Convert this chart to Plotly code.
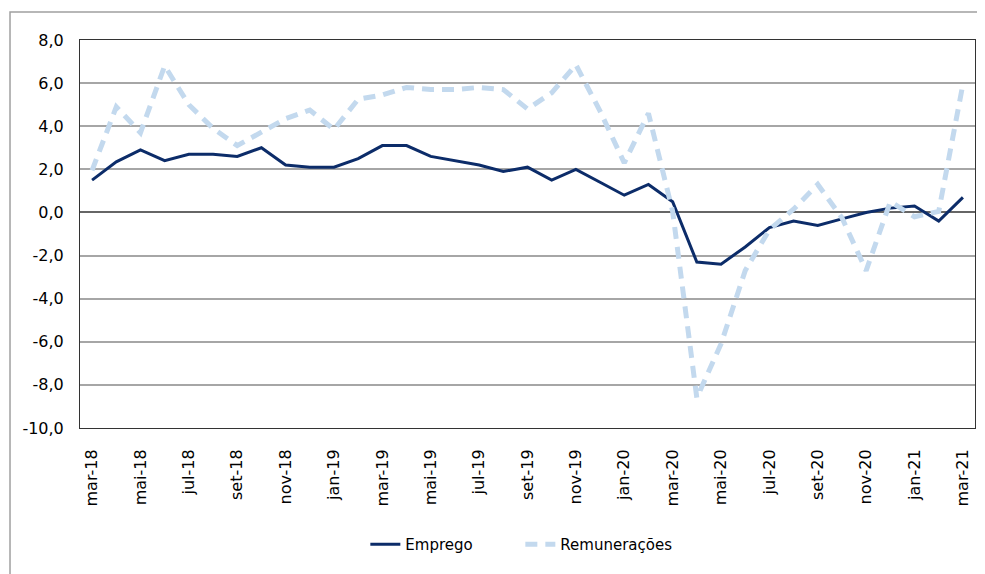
import plotly.graph_objects as go

months = ["mar-18", "abr-18", "mai-18", "jun-18", "jul-18", "ago-18", "set-18", "out-18",
          "nov-18", "dez-18", "jan-19", "fev-19", "mar-19", "abr-19", "mai-19", "jun-19",
          "jul-19", "ago-19", "set-19", "out-19", "nov-19", "dez-19", "jan-20", "fev-20",
          "mar-20", "abr-20", "mai-20", "jun-20", "jul-20", "ago-20", "set-20", "out-20",
          "nov-20", "dez-20", "jan-21", "fev-21", "mar-21"]

emprego = [1.5, 2.35, 2.9, 2.4, 2.7, 2.7, 2.6, 3.0, 2.2, 2.1, 2.1, 2.5, 3.1, 3.1, 2.6, 2.4,
           2.2, 1.9, 2.1, 1.5, 2.0, 1.4, 0.8, 1.3, 0.5, -2.3, -2.4, -1.6, -0.7, -0.4, -0.6,
           -0.3, 0.0, 0.2, 0.3, -0.4, 0.7]

remuneracoes = [1.95, 4.9, 3.7, 6.8, 5.0, 3.9, 3.1, 3.75, 4.35, 4.75, 3.85, 5.25, 5.45, 5.8,
                5.7, 5.7, 5.8, 5.7, 4.8, 5.55, 6.85, 4.7, 2.3, 4.6, 0.05, -8.6, -6.1, -2.7,
                -0.8, 0.15, 1.3, -0.25, -2.7, 0.5, -0.2, 0.05, 5.95]

y_ticks = [8, 6, 4, 2, 0, -2, -4, -6, -8, -10]
y_tick_labels = ["8,0", "6,0", "4,0", "2,0", "0,0", "-2,0", "-4,0", "-6,0", "-8,0", "-10,0"]
x_tick_months = months[::2]

FONT = "DejaVu Sans"

fig = go.Figure()
fig.add_trace(go.Scatter(
    x=months, y=emprego, name="Emprego", mode="lines",
    line=dict(color="#0c2c69", width=3),
))
fig.add_trace(go.Scatter(
    x=months, y=remuneracoes, name="Remunerações", mode="lines",
    line=dict(color="#c3d9ee", width=5, dash="12px,8px"),
))

# page body has an 8px margin, so the figure is sized/offset to compensate
fig.update_layout(
    width=977, height=566,
    margin=dict(l=72, r=10, t=32, b=146, autoexpand=False),
    paper_bgcolor="white", plot_bgcolor="white",
    font=dict(family=FONT, size=16, color="black"),
    showlegend=True,
    legend=dict(orientation="h", x=0.492, xanchor="center", y=-0.30, yanchor="middle",
                font=dict(family=FONT, size=15, color="black"), bgcolor="rgba(0,0,0,0)",
                entrywidth=110, entrywidthmode="pixels"),
)

fig.update_xaxes(
    type="category", categoryorder="array", categoryarray=months,
    range=[-0.5, len(months) - 0.5],
    tickmode="array", tickvals=x_tick_months, ticktext=x_tick_months,
    tickangle=-90, tickfont=dict(family=FONT, size=16),
    showgrid=False, ticks="", ticklabelstandoff=14,
    showline=True, linecolor="#333333", linewidth=1, mirror=True,
)
fig.update_yaxes(
    range=[-10, 8], tickmode="array", tickvals=y_ticks, ticktext=y_tick_labels,
    tickfont=dict(family=FONT, size=16),
    showgrid=True, gridcolor="#a6a6a6", gridwidth=1.5,
    zeroline=True, zerolinecolor="#666666", zerolinewidth=1.5,
    ticks="", ticklabelstandoff=12,
    showline=True, linecolor="#333333", linewidth=1, mirror=True,
)

# outer chart frame
fig.add_shape(type="rect", xref="paper", yref="paper",
              x0=-0.0782, x1=1.2, y0=-0.6, y1=1.072,
              line=dict(color="#a0a0a0", width=1.5), fillcolor="rgba(0,0,0,0)", layer="below")

fig.write_html("out.html")
